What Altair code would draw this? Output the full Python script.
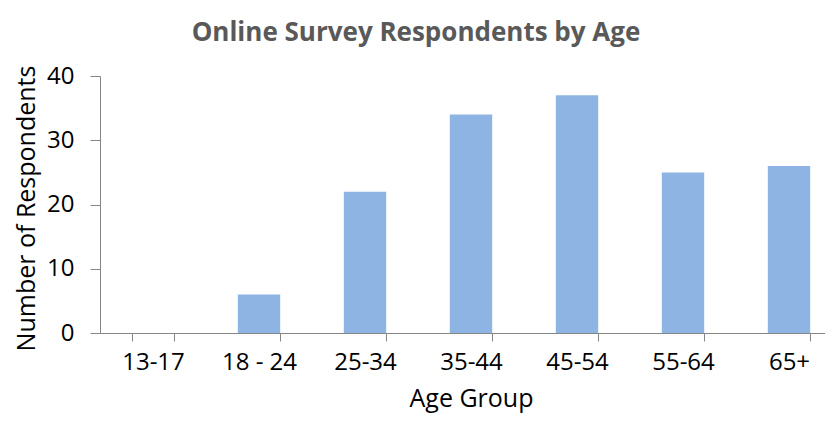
import altair as alt
import pandas as pd

age_groups = ["13-17", "18 - 24", "25-34", "35-44", "45-54", "55-64", "65+"]
respondents = [0, 6, 22, 34, 37, 25, 26]

df = pd.DataFrame({"age": age_groups, "n": respondents})

FONT = "Open Sans"
AXIS_GRAY = "#868686"

chart = alt.Chart(df).mark_bar(color="#8EB4E3").encode(
    x=alt.X(
        "age:N",
        sort=age_groups,
        scale=alt.Scale(paddingInner=0.6, paddingOuter=0.3),
        axis=alt.Axis(
            title="Age Group",
            labelAngle=0,
            labelFont=FONT,
            labelFontSize=24,
            labelColor="#000000",
            labelBaseline="alphabetic",
            labelPadding=28,
            tickBand="extent",
            tickSize=8,
            tickColor=AXIS_GRAY,
            domainColor=AXIS_GRAY,
            titleFont=FONT,
            titleFontSize=25,
            titleFontWeight="normal",
            titleColor="#000000",
            titleBaseline="alphabetic",
            titleY=73,
            grid=False,
        ),
    ),
    y=alt.Y(
        "n:Q",
        scale=alt.Scale(domain=[0, 40]),
        axis=alt.Axis(
            title="Number of Respondents",
            values=[0, 10, 20, 30, 40],
            labelFont=FONT,
            labelFontSize=24,
            labelColor="#000000",
            labelPadding=16,
            tickSize=10,
            tickColor=AXIS_GRAY,
            domainColor=AXIS_GRAY,
            titleFont=FONT,
            titleFontSize=25,
            titleFontWeight="normal",
            titleColor="#000000",
            titleBaseline="alphabetic",
            titleX=-66,
            titleY=132,
            grid=False,
        ),
    ),
).properties(
    width=742,
    height=257,
    title=alt.TitleParams(
        "Online Survey Respondents by Age",
        font=FONT,
        fontSize=26,
        fontWeight="bold",
        color="#595959",
        baseline="alphabetic",
        offset=1,
        dx=-55,
        dy=4,
    ),
    autosize=alt.AutoSizeParams(type="none"),
    padding={"left": 92, "top": 68, "right": -17, "bottom": 80},
).configure_view(stroke=None)

chart.save("out.html", embed_options={"renderer": "svg", "actions": False})
